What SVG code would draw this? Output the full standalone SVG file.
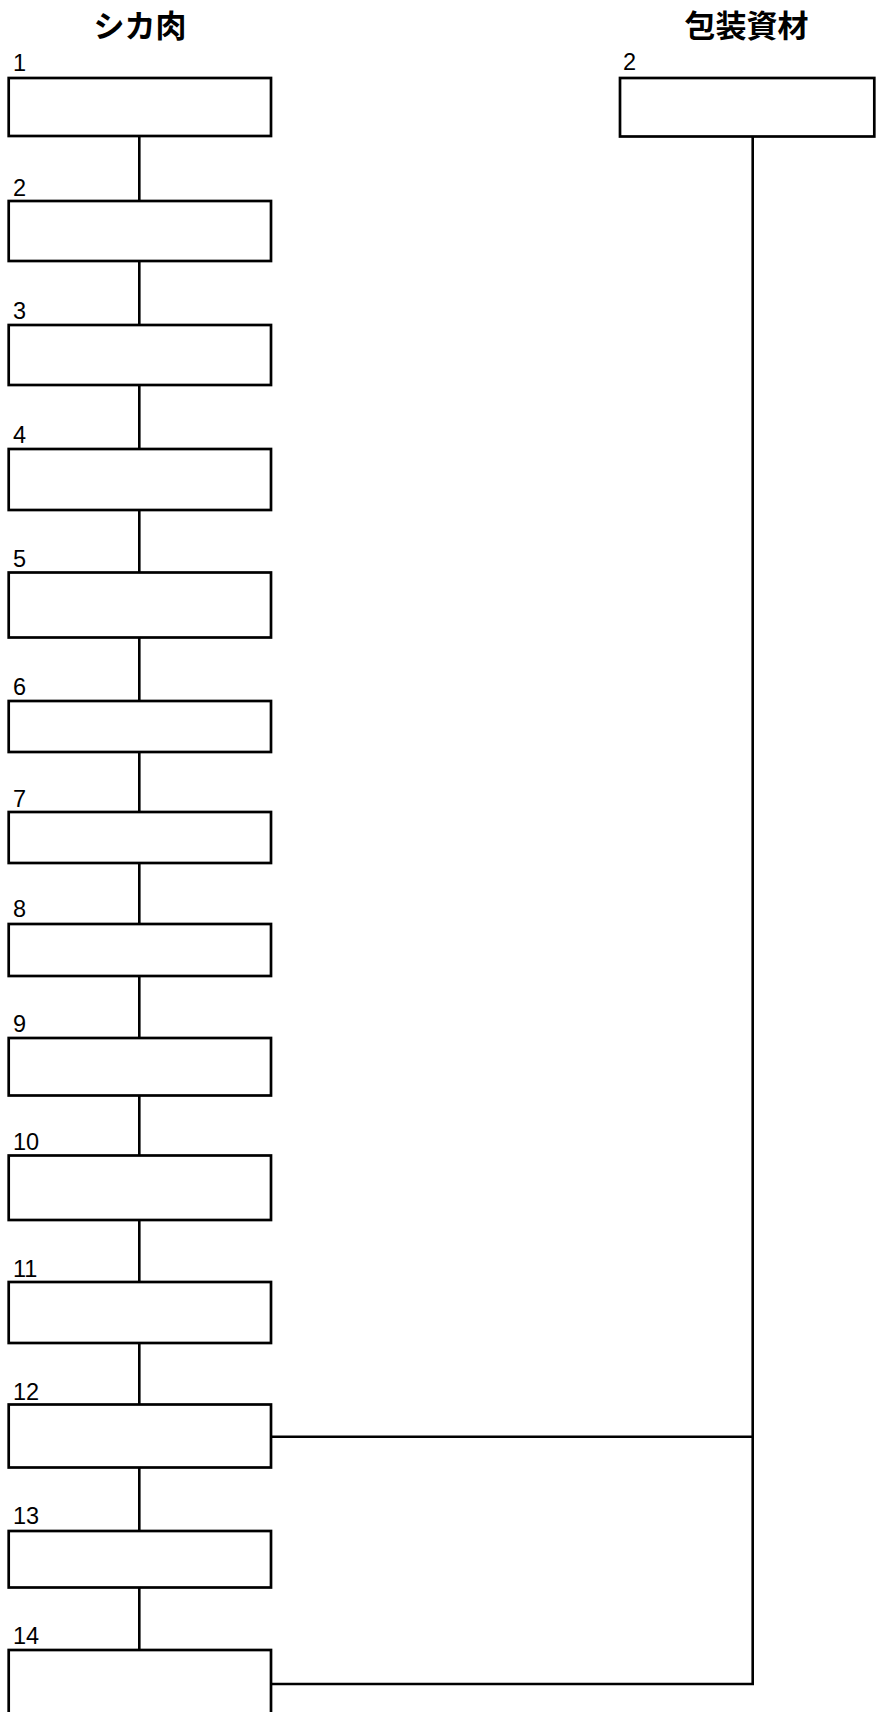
<svg xmlns="http://www.w3.org/2000/svg" width="883" height="1712" viewBox="0 0 883 1712">
<style>
.box{fill:#fff;stroke:#000;stroke-width:2.7}
.ln{fill:none;stroke:#000;stroke-width:2.6}
.num{font-family:"Liberation Sans",Arial,sans-serif;font-size:23.5px;fill:#000}
.title{font-family:"Noto Sans CJK JP","Noto Sans CJK SC",sans-serif;font-size:31px;font-weight:bold;fill:#000;text-anchor:middle}
</style>
<rect width="883" height="1712" fill="#fff"/>
<g id="connectors">
<line class="ln" x1="139.3" y1="136" x2="139.3" y2="1650"/>
<polyline class="ln" points="752.7,136.5 752.7,1684 271,1684"/>
<line class="ln" x1="271" y1="1436.7" x2="752.7" y2="1436.7"/>
</g>
<g id="titles">
<text class="title" x="140" y="37">シカ肉</text>
<text class="title" x="746.5" y="37">包装資材</text>
</g>
<g id="n1"><rect class="box" x="8.7" y="78" width="262.3" height="58"/><text class="num" x="13" y="71">1</text></g>
<g id="n2"><rect class="box" x="8.7" y="201" width="262.3" height="60"/><text class="num" x="13" y="195.5">2</text></g>
<g id="n3"><rect class="box" x="8.7" y="325" width="262.3" height="60"/><text class="num" x="13" y="318.5">3</text></g>
<g id="n4"><rect class="box" x="8.7" y="449" width="262.3" height="61"/><text class="num" x="13" y="443">4</text></g>
<g id="n5"><rect class="box" x="8.7" y="572.5" width="262.3" height="65"/><text class="num" x="13" y="567">5</text></g>
<g id="n6"><rect class="box" x="8.7" y="701" width="262.3" height="51"/><text class="num" x="13" y="695">6</text></g>
<g id="n7"><rect class="box" x="8.7" y="812" width="262.3" height="51"/><text class="num" x="13" y="807">7</text></g>
<g id="n8"><rect class="box" x="8.7" y="924" width="262.3" height="52"/><text class="num" x="13" y="917">8</text></g>
<g id="n9"><rect class="box" x="8.7" y="1038" width="262.3" height="57.5"/><text class="num" x="13" y="1032">9</text></g>
<g id="n10"><rect class="box" x="8.7" y="1155.5" width="262.3" height="64.5"/><text class="num" x="13" y="1149.5">10</text></g>
<g id="n11"><rect class="box" x="8.7" y="1282" width="262.3" height="61"/><text class="num" x="13" y="1277">11</text></g>
<g id="n12"><rect class="box" x="8.7" y="1404.5" width="262.3" height="63"/><text class="num" x="13" y="1400">12</text></g>
<g id="n13"><rect class="box" x="8.7" y="1531" width="262.3" height="56.5"/><text class="num" x="13" y="1524">13</text></g>
<g id="n14"><rect class="box" x="8.7" y="1650" width="262.3" height="75"/><text class="num" x="13" y="1644">14</text></g>
<g id="p2"><rect class="box" x="620" y="78" width="254.3" height="58.5"/><text class="num" x="623" y="70">2</text></g>
</svg>
